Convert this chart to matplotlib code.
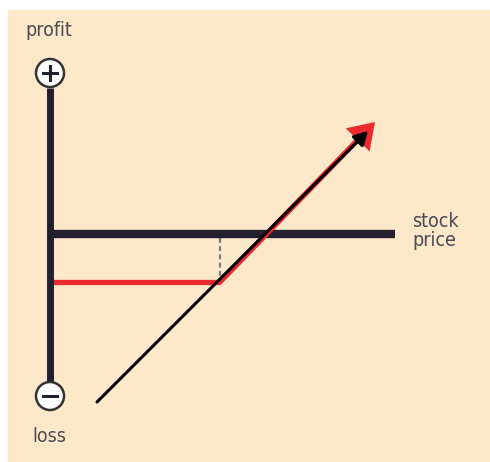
import numpy as np
import matplotlib.pyplot as plt
from matplotlib.patches import Circle, Rectangle

# Diagram data (origin = where the axes meet, units ~ pixels)
axis_len_x = 345
axis_top = 146
axis_bottom = -149
strike = 170
premium = 48

# long call payoff (red) and long stock payoff (black)
call_x = [-2, strike, 325]
call_y = [-premium, -premium, 112]
stock_x = [47, 318]
stock_y = [-168, 103]

BG = '#fde8c9'
DARK = '#231f2e'
RED = '#ea2a2f'
TXT = '#4b4a55'

fig = plt.figure(figsize=(4.9, 4.62), dpi=100)
ax = fig.add_axes([0, 0, 1, 1])
ax.set_xlim(-50, 440)
ax.set_ylim(-228, 234)
ax.axis('off')

# background panel
ax.add_patch(Rectangle((-42, -228), 500, 452, color=BG, zorder=0))

# payoff lines
ax.plot(call_x[:2], call_y[:2], color=RED, lw=3.8, solid_capstyle='butt', zorder=2)
ax.annotate('', xy=(call_x[2], call_y[2]), xytext=(call_x[1], call_y[1]),
            arrowprops=dict(arrowstyle='-|>,head_length=0.45,head_width=0.3',
                            color=RED, lw=3.8, mutation_scale=28,
                            shrinkA=0, shrinkB=0, joinstyle='miter'), zorder=3)
ax.annotate('', xy=(stock_x[1], stock_y[1]), xytext=(stock_x[0], stock_y[0]),
            arrowprops=dict(arrowstyle='-|>,head_length=0.45,head_width=0.25',
                            color='black', lw=2.2, mutation_scale=18,
                            shrinkA=0, shrinkB=0), zorder=4)

# strike marker
ax.plot([strike, strike], [-4, -premium + 2], color='#7a7a7a', lw=1.6,
        ls=(0, (2.2, 1.5)), zorder=1)

# axes
ax.plot([0, axis_len_x], [0, 0], color=DARK, lw=6, solid_capstyle='butt', zorder=2.5)
ax.plot([0, 0], [axis_bottom, axis_top], color=DARK, lw=5, solid_capstyle='butt', zorder=2.5)

# plus / minus end caps
for cy, sign in [(161, '+'), (-162, '-')]:
    ax.add_patch(Circle((0, cy), 14, facecolor='white', edgecolor='#333333', lw=1.8, zorder=5))
    ax.plot([-7, 7], [cy, cy], color=DARK, lw=2.2, zorder=6)
    if sign == '+':
        ax.plot([0, 0], [cy - 7, cy + 7], color=DARK, lw=2.2, zorder=6)

font = dict(family='DejaVu Sans', stretch='condensed', color=TXT, fontsize=14)
ax.text(-1, 203, 'profit', ha='center', va='center', **font)
ax.text(-1, -202, 'loss', ha='center', va='center', **font)
ax.text(362, 3, 'stock\nprice', ha='left', va='center', linespacing=0.95, **font)

fig.savefig('out.png', dpi=100)
